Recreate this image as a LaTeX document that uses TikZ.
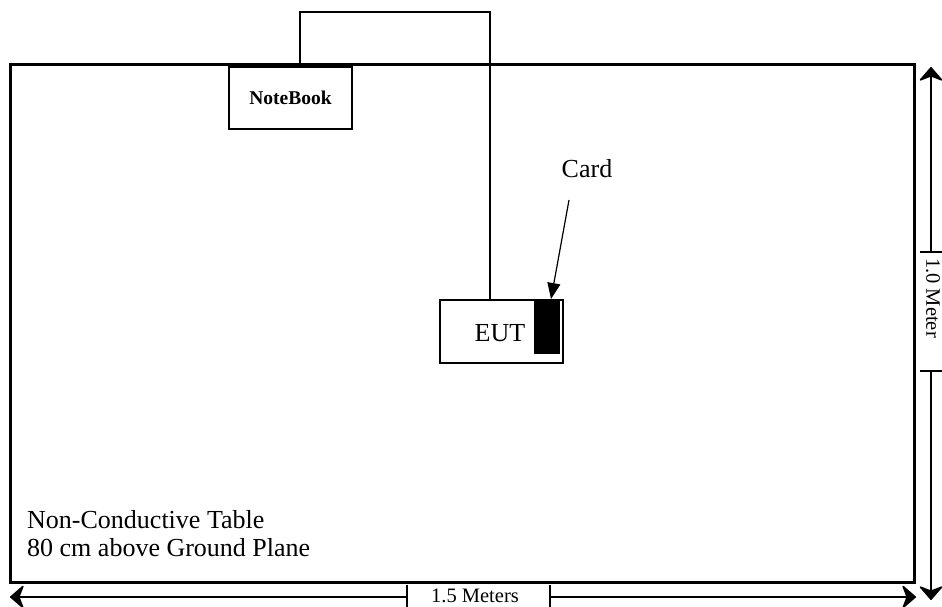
\documentclass[tikz,border=0pt]{standalone}
\usepackage{fontspec}
\setmainfont{Liberation Serif}
\usetikzlibrary{arrows.meta}
\begin{document}
\begin{tikzpicture}[x=1pt,y=-1pt,
  thin box/.style={draw,line width=1.4pt,rectangle,inner sep=0pt},
  dimarrow/.style={line width=1.3pt,-{Stealth[length=15pt,width=26pt,inset=5pt,line width=1.5pt,round]}},
  dimtick/.style={line width=1.3pt},
  dimtext/.style={font=\fontsize{20.5}{22}\selectfont,inner sep=0pt},
  bigtext/.style={font=\fontsize{26}{28}\selectfont,inner sep=0pt}]
\useasboundingbox (0,0) rectangle (942,607);
% table
\node[draw,line width=3pt,rectangle,minimum width=904pt,minimum height=517pt,inner sep=0pt] (table) at (462,323.5) {};
% notebook
\node[thin box,fill=white,minimum width=123pt,minimum height=62pt,font=\bfseries\fontsize{19.5}{22}\selectfont] (nb) at (290.5,98) {NoteBook};
% EUT
\node[thin box,minimum width=123pt,minimum height=63pt] (eut) at (501.5,331.5) {};
\node[bigtext] (euttext) at (500,333) {EUT};
\node[fill=black,rectangle,inner sep=0pt,minimum width=26pt,minimum height=54pt,anchor=north west] (card) at (534,300) {};
% cable
\coordinate (c1) at (300,0);
\coordinate (c2) at (490,12);
\draw[line width=1.4pt] (nb.north -| c1) |- (c2) -- (eut.north -| c2);
% card label
\node[bigtext] (cardlabel) at (587,169) {Card};
\coordinate (cardarrowstart) at (569,200);
\coordinate (cardarrowend) at (551,299);
\draw[line width=1.2pt,-{Triangle[length=16pt,width=13pt]}] (cardarrowstart) -- (cardarrowend);
% table text
\node[bigtext,align=left,anchor=south west] (tabletext) at (27,557) {Non-Conductive Table\\80 cm above Ground Plane};
% horizontal dimension
\coordinate (hl) at (407,597);
\coordinate (hr) at (550,597);
\coordinate (hle) at (10,597);
\coordinate (hre) at (916,597);
\draw[dimarrow] (hl) -- (hle);
\draw[dimarrow] (hr) -- (hre);
\draw[dimtick] (407,585) -- (407,607);
\draw[dimtick] (550,585) -- (550,607);
\node[dimtext] (htext) at (475,596) {1.5 Meters};
% vertical dimension
\coordinate (vt) at (931,252);
\coordinate (vb) at (931,371);
\coordinate (vte) at (931,67);
\coordinate (vbe) at (931,600);
\draw[dimarrow] (vt) -- (vte);
\draw[dimarrow] (vb) -- (vbe);
\draw[dimtick] (920,252) -- (942,252);
\draw[dimtick] (920,371) -- (942,371);
\node[dimtext,rotate=-90,anchor=west] (vtext) at (933,258) {1.0 Meter};
\end{tikzpicture}
\end{document}
